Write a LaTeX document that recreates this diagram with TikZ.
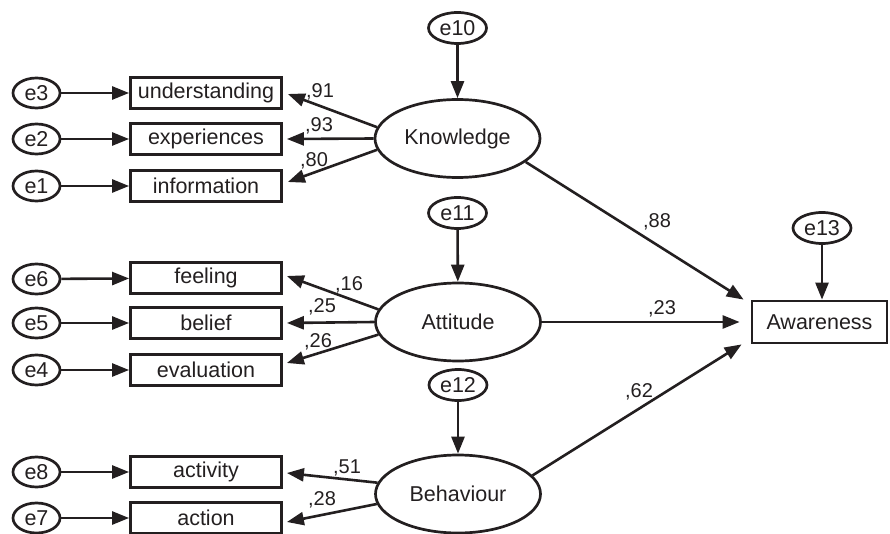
\documentclass[tikz,border=0pt]{standalone}
\usepackage{fontspec}
\setmainfont{Liberation Sans}
\usetikzlibrary{shapes.geometric,arrows.meta}
\definecolor{ink}{HTML}{231F20}
\begin{document}
\begin{tikzpicture}[x=1pt,y=-1pt,
  every node/.style={text=ink},
  errsmall/.style={draw=ink,line width=2.7pt,ellipse,inner sep=0pt,minimum width=47pt,minimum height=30pt,font=\fontsize{21.5}{24}\selectfont},
  errbig/.style={draw=ink,line width=2.7pt,ellipse,inner sep=0pt,minimum width=58pt,minimum height=31pt,font=\fontsize{21.5}{24}\selectfont},
  latent/.style={draw=ink,line width=2.7pt,ellipse,inner sep=0pt,minimum width=165pt,minimum height=78pt,font=\fontsize{21.5}{24}\selectfont},
  obsbox/.style={draw=ink,line width=2.8pt,rectangle,inner sep=0pt,minimum width=151pt,minimum height=31pt,font=\fontsize{21.5}{24}\selectfont},
  arr/.style={draw=ink,line width=2.6pt,-{Triangle[length=17pt,width=13pt]}},
  coef/.style={anchor=base,inner sep=0pt,font=\fontsize{20}{22}\selectfont}]
\useasboundingbox (0,0) rectangle (890,534);

% left error terms
\node[errsmall] (e3) at (36.5,93) {e3};
\node[errsmall] (e2) at (36.5,139) {e2};
\node[errsmall] (e1) at (36.5,186) {e1};
\node[errsmall] (e6) at (36.5,279) {e6};
\node[errsmall] (e5) at (36.5,323) {e5};
\node[errsmall] (e4) at (36.5,370) {e4};
\node[errsmall] (e8) at (36.5,472) {e8};
\node[errsmall] (e7) at (36.5,518) {e7};

% observed indicators
\node[obsbox] (und) at (206,93) {understanding};
\node[obsbox] (exp) at (206,139) {experiences};
\node[obsbox] (inf) at (206,186) {information};
\node[obsbox] (fee) at (206,278) {feeling};
\node[obsbox] (bel) at (206,323) {belief};
\node[obsbox] (eva) at (206,370) {evaluation};
\node[obsbox] (act) at (206,472) {activity};
\node[obsbox] (acn) at (206,518) {action};

% latent variables
\node[latent] (K) at (457.5,138.5) {Knowledge};
\node[latent] (A) at (458,322) {Attitude};
\node[latent] (B) at (458,494) {Behaviour};

% upper error terms
\node[errbig] (e10) at (457.5,28) {e10};
\node[errbig] (e11) at (457.5,213) {e11};
\node[errbig] (e12) at (458,385) {e12};
\node[errbig] (e13) at (822,228) {e13};

% outcome
\node[obsbox,minimum width=135pt,minimum height=42pt] (aw) at (819.5,322) {Awareness};

% error arrows
\foreach \e/\b in {e3/und,e2/exp,e1/inf,e6/fee,e5/bel,e4/eva,e8/act,e7/acn}
  \draw[arr] (\e) -- (\b);
\draw[arr] (e10) -- (K);
\draw[arr] (e11) -- (A);
\draw[arr] (e12) -- (B);
\draw[arr] (e13) -- (e13 |- aw.north);

% loadings
\draw[arr] (K.172) -- ([shift={(5,1)}]und.east);
\draw[arr] (K.180) -- ([shift={(4,0)}]exp.east);
\draw[arr] (K.188) -- ([shift={(5,-4)}]inf.east);
\draw[arr] (A.171) -- ([shift={(4,-2)}]fee.east);
\draw[arr] (A.180) -- ([shift={(4,0)}]bel.east);
\draw[arr] (A.189) -- ([shift={(4,-7)}]eva.east);
\draw[arr] (B.172) -- ([shift={(4,1)}]act.east);
\draw[arr] (B.187) -- ([shift={(4,4)}]acn.east);

% structural paths
\draw[arr] (K.-19) -- ([xshift=-7]aw.north west);
\draw[arr] (A.east) -- ([xshift=-11]aw.west);
\draw[arr] (B.14) -- ([xshift=-9]aw.south west);

% coefficients
\node[coef] (c91) at (320,98) {,91};
\node[coef] (c93) at (319,132) {,93};
\node[coef] (c80) at (314,167) {,80};
\node[coef] (c16) at (349,290) {,16};
\node[coef] (c25) at (322,312) {,25};
\node[coef] (c26) at (318,347) {,26};
\node[coef] (c51) at (347,473) {,51};
\node[coef] (c28) at (322,505) {,28};
\node[coef] (c88) at (657,228) {,88};
\node[coef] (c23) at (662,314) {,23};
\node[coef] (c62) at (639,397) {,62};
\end{tikzpicture}
\end{document}
